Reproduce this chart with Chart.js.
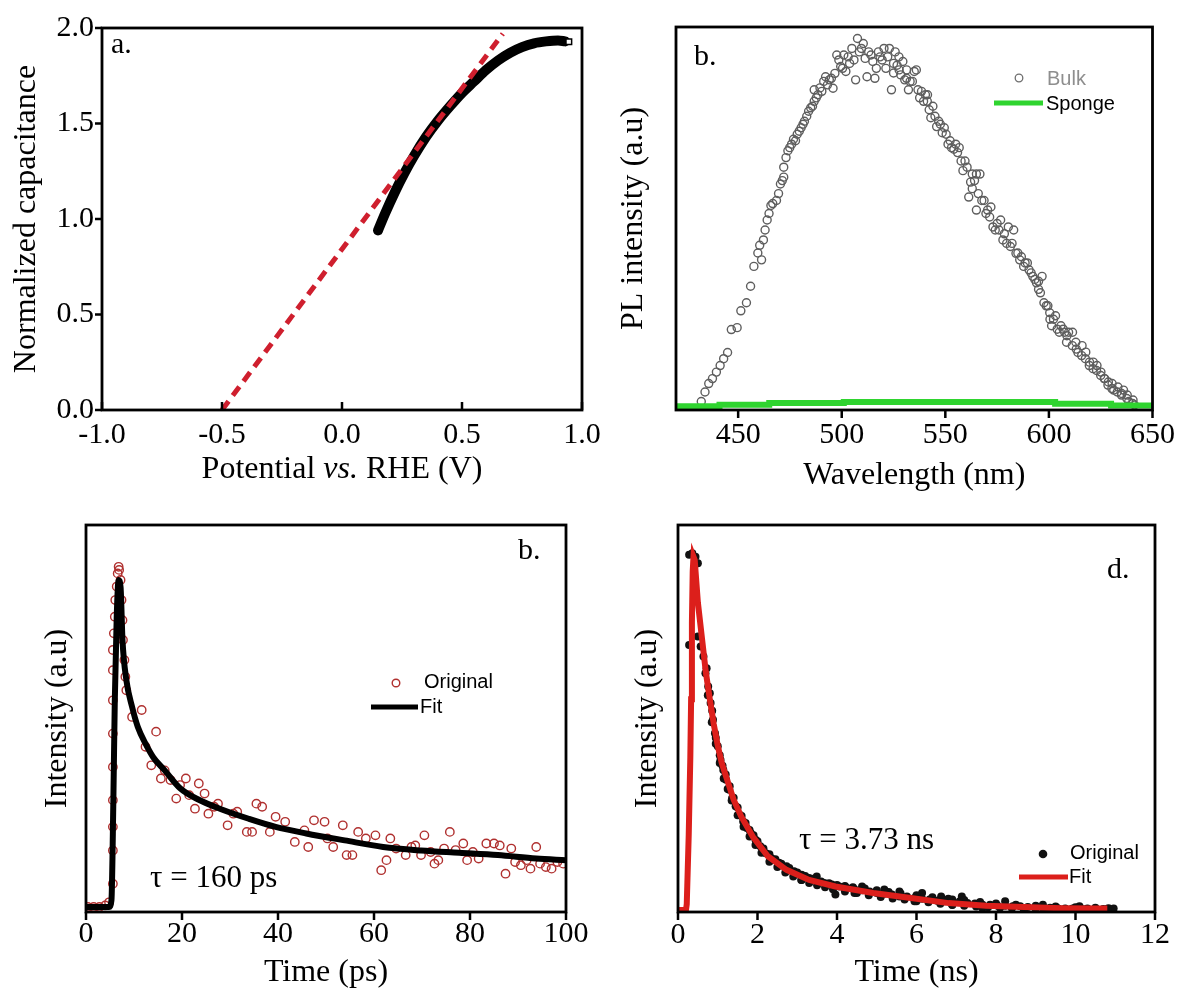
<!DOCTYPE html>
<html>
<head>
<meta charset="utf-8">
<script src="https://cdn.jsdelivr.net/npm/chart.js@4.4.1/dist/chart.umd.min.js"></script>
<style>
  html, body { margin: 0; padding: 0; background: #ffffff; overflow: hidden; }
  #wrap { position: relative; width: 1182px; height: 994px; background: #ffffff; }
  #wrap canvas { position: absolute; left: 0; top: 0; }
</style>
</head>
<body>
<div id="wrap">
  <canvas id="chartA" width="1182" height="994"></canvas>
  <canvas id="chartB" width="1182" height="994"></canvas>
  <canvas id="chartC" width="1182" height="994"></canvas>
  <canvas id="chartD" width="1182" height="994"></canvas>
</div>
<script>
// ---------------- DATA ----------------
// Panel a: normalized capacitance vs potential
const aPotential   = [0.15,0.18,0.22,0.26,0.30,0.35,0.40,0.45,0.50,0.55,0.60,0.65,0.70,0.75,0.80,0.85,0.90,0.93];
const aCapacitance = [0.94,1.03,1.14,1.24,1.33,1.43,1.515,1.59,1.66,1.72,1.78,1.83,1.87,1.90,1.92,1.93,1.935,1.93];
const aEndPotential = [0.945];
const aEndCapacitance = [1.928];
const aFitPotential = [-0.5, 0.67];
const aFitCapacitance = [0, 1.97];
const aXTicks = [-1.0, -0.5, 0.0, 0.5, 1.0];
const aYTicks = [0.0, 0.5, 1.0, 1.5, 2.0];

// Panel b: PL spectra
const bBulkWl = [432.2,434,435.8,437.6,439.5,441.3,443,444.9,446.7,449.5,
  451.3,454,456,457.6,459.5,460.4,463,464,466.7,468.5,
  470.4,472,472,474,474.9,476.7,478.5,480.4,482,484,
  485,486.7,486.7,488.5,490.4,491.3,492.2,494,495.8,496.7,
  497.6,499.5,501,502,503.8,504.9,506.7,507.6,508.5,510.4,
  511.3,512.2,513,515,516,516.7,518.5,520.4,521.3,523,
  524,525,525.8,526.7,527.6,528.5,529.5,530.4,531.3,532.2,
  533,535,536,537.6,538.5,540.4,541.3,542.2,543,544,
  545.8,547.6,548.5,550.4,551.3,553,555,556.7,557.6,558.5,
  559.5,562.2,563,565,566.7,563,561.3,565,567.6,570.4,
  572,573,575,576.7,578.5,580.4,582.2,583,585,586.7,
  588.5,590.4,592.2,594,595,596.7,597.6,599.5,600.4,602.2,
  601.3,604,605.8,607.6,609.5,608.5,611.3,613,614,615.8,
  617.6,619.5,621.3,623,625,626.7,628.5,630.4,631.3,633,
  635,636,637.6,638.5,640.4,641.3,
  461.3,462.2,464.9,465.8,469.5,471.3,473.1,475.8,477.7,479.5,
  481.3,483.1,485.9,487.7,489.5,493.1,495.0,498.6,500.4,503.1,
  505.9,509.5,514.1,517.7,519.5,522.2,525.0,527.7,531.3,534.1,
  536.8,539.5,541.4,545.0,546.8,549.5,552.3,554.1,555.9,560.5,
  564.1,565.9,568.7,569.6,571.4,574.1,575.9,577.8,579.6,581.4,
  584.1,585.9,587.8,589.6,591.4,593.2,595.0,595.9,598.7,600.5,
  603.2,605.0,606.9,608.7,611.4,613.2,616.0,617.8,619.6,621.4,
  623.2,625.1,626.9,628.7,630.5,633.3,635.1,637.8,640.6];
const bBulkInt = [2.2,4.7,6.9,8.2,9.9,11.6,13.4,15,21,21.5,
  25.9,28,32.3,37.5,41,43,47,49.6,53.9,54.7,
  59,60.8,63.4,67.7,68.5,70.7,72,73.7,75.4,78,
  78.9,80.6,83.6,82.3,83.2,85.8,87,86.2,84,87.9,
  92.7,89.7,92.7,88.4,90.5,94.4,86.2,97,93.5,95.7,
  91.8,87,93.5,91,86.6,89.2,92.2,94.4,89.2,94.4,
  83.6,88,93.5,90,92.2,87.5,91,86.2,88.8,83.6,
  85.8,88.4,88.8,81.5,83.2,82.3,80.6,78.4,76.3,79.3,
  74,74.6,72.4,72,69.4,68.5,69.4,68.5,65,62.5,
  65,59.5,61.6,61.6,61.6,57.8,55.6,52.2,54.7,52.2,
  53,47.8,48.7,49.6,46,47.8,43.5,47,41,40,
  38.4,36.6,34.9,33.2,31.5,34.9,28,27.2,25.4,23.7,
  22,21.1,22,20.3,20.3,17.7,16.8,17.7,15,14.2,
  13.4,11.6,10.8,10.3,9,8.2,6.5,5.6,5.2,4.7,
  3.9,5.2,3,2.2,1.7,1.3,
  39.2,44.4,51.3,53.4,56.5,59.9,65.9,69.4,70.3,72.8,
  74.6,76.7,79.3,81.5,84.1,84.9,86.6,91.4,89.2,92.2,
  91.4,94.4,92.7,93.5,91.4,92.2,90.5,88.8,86.6,85.8,
  83.6,80.6,82.3,76.7,75.4,73.7,70.3,68.1,67.2,63.4,
  59.9,56.5,54.7,51.3,50.4,47.0,47.0,44.4,43.5,42.7,
  40.9,39.2,37.5,38.4,35.8,34.1,33.6,30.6,27.2,23.7,
  24.6,20.3,21.1,19.4,20.3,15.9,16.8,15.1,12.5,12.5,
  11.6,9.9,8.2,7.3,6.9,6.0,4.3,3.9,2.6];
const bSpongeWl  = [420, 441, 465, 501, 603, 630, 650];
const bSpongeInt = [1.0, 1.4, 1.8, 2.1, 1.6, 1.2, 1.2];
const bXTicks = [450, 500, 550, 600, 650];

// Panel c: decay in ps
const cOrigTime = [0.4,1.6,2.8,4.0,4.8,5.6,5.6,5.6,5.6,5.6,5.6,5.6,5.6,5.6,5.8,6.0,6.1,6.4,6.6,6.8,6.9,7.2,7.4,7.6,7.7,8.0,8.2,8.4,
  9.6,11.6,12.4,13.6,14.6,15.6,16.4,17.6,18.8,19.6,20.8,21.5,22.7,23.5,24.7,25.5,26.7,27.5,29.5,30.7,
  31.5,33.5,34.6,35.5,36.7,38.3,39.5,41.5,43.5,45.5,46.3,47.5,49.7,50.3,51.5,53.5,54.3,55.5,56.7,58.3,
  60.3,61.5,62.6,63.4,64.6,66.6,67.8,68.6,69.8,70.5,71.8,72.6,73.4,74.6,75.8,77.0,78.6,79.4,80.6,81.8,
  83.4,85.0,86.2,87.4,88.6,89.4,90.6,91.8,92.6,93.8,94.6,95.8,97.0,98.2,99.4];
const cOrigInt = [1.3,1.3,1.3,1.7,2.5,7.3,15.9,22.0,28.9,37.5,46.1,54.7,62.5,67.7,72.0,76.3,80.6,84.1,87.5,89.2,88.4,85.8,80.6,75.4,70.3,65.1,60.8,57.3,
  50.4,52.2,42.7,37.9,46.6,34.5,36.6,34.1,29.3,32.8,34.5,30.2,26.7,33.2,30.6,25.4,27.2,28.0,22.4,25.4,
  25.9,20.7,20.7,28.0,27.2,20.7,24.6,23.3,18.1,21.1,16.8,23.7,23.3,19.0,16.8,22.4,14.7,14.7,20.7,19.0,
  19.8,10.8,13.4,19.0,16.4,14.7,16.8,17.2,14.7,19.8,15.5,12.5,13.4,16.4,20.7,16.0,17.7,13.4,15.5,13.8,
  17.7,17.7,17.2,9.9,16.4,12.9,12.1,13.4,11.2,16.8,12.5,11.6,11.2,12.9,12.5];
const cFitTime = [0,4.8,5.3,5.7,6.0,6.4,6.8,7.2,7.6,8.4,9.6,10.8,12.4,14,16.4,19.6,23.5,28.3,33.9,39.5,45.9,53.9,61.9,69.8,77.8,85.8,93.8,100];
const cFitInt  = [1.3,1.3,3,28.9,54.7,76.3,85.8,84,70.3,60,53,47.8,43.5,40,36.6,32,29,26.5,24.1,22,20.3,18.5,16.8,15.9,15.3,14.7,13.8,13.4];
const cXTicks = [0, 20, 40, 60, 80, 100];

// Panel d: decay in ns
const dOrigTime = [0.28,0.36,0.44,0.50,0.28,0.50,0.57,0.64,0.69,0.76,0.82,0.88,0.93,1.0,1.07,1.14,1.21,1.29,1.36,1.45,
  1.55,1.64,1.73,1.83,1.95,2.07,2.21,2.35,2.54,2.73,2.92,3.11,3.30,3.49,3.68,3.87,3.96,4.06,4.25,4.44,
  4.63,4.82,5.0,5.19,5.38,5.57,5.76,5.95,6.14,6.33,6.52,6.71,6.90,7.09,7.28,7.47,7.66,7.85,8.04,8.23,
  8.42,8.61,8.80,8.99,9.18,9.36,9.55,9.74,9.93,10.1,10.3,10.5,10.7,10.83,10.96,
  3.11,3.49,4.44,4.63,5.19,5.57,5.95,6.14,6.62,6.90,7.14,7.66,8.23,8.70,9.18,10.1,
  0.72,0.8,0.86,0.95,1.05,1.12,1.2,1.3,1.4,1.5,1.6,1.7,1.8,1.9,2.0,2.15,2.3,2.45,2.6,2.8,
  3.0,3.2,3.4,3.6,3.8,4.0,4.2,4.4,4.7,5.0,5.3,5.6,6.0,6.4,6.8,7.2,7.6,8.0,8.5,9.0,9.5,10.0,10.5,
  0.75,0.85,0.95,1.05,1.15,1.25,1.35,1.5,1.65,1.8,1.95,2.1,2.3,2.5,2.7,2.9,3.1,3.3,3.5,3.7,
  3.9,4.2,4.5,4.8,5.1,5.4,5.7,6.0,6.3,6.6,6.9,7.2,7.5,7.8,8.1,8.4,8.7,9.0,9.3,9.6,9.9,10.2,10.5,10.8];
const dOrigInt = [92.3,92.7,91.8,90.1,69,71.2,68.6,66,61.7,58.3,54,49.7,46.2,42.8,39.3,36.7,34.2,31.6,29.4,27.3,
  25.1,23.4,21.7,20.4,18.7,17,15.2,13.9,12.7,11.8,10.5,9.6,8.8,7.9,7.5,7.1,4.5,6.6,6.2,5.9,
  5.6,5.3,4.9,4.7,4.5,4.0,4.0,3.6,3.4,3.2,2.9,2.8,3.2,2.8,2.3,2.2,1.9,1.9,1.6,1.6,
  1.5,1.5,1.3,1.3,1.1,1.1,1.0,0.9,0.9,0.9,0.9,0.8,0.8,1.0,0.9,
  8.3,9.2,4.9,6.6,5.8,5.3,2.8,4.9,4.0,1.9,4.0,1.0,2.8,0.8,1.9,1.5,
  63,56.5,52,45,40.5,37.8,35.5,32.5,29.5,27,24.8,23,21.2,19.8,18.3,16.4,14.9,13.6,12.5,11.4,
  10.2,9.3,8.6,7.9,7.4,7.0,6.7,6.4,6.1,5.6,5.2,4.8,4.3,3.8,3.4,3.1,2.6,2.2,1.9,1.6,1.4,1.2,1.1,
  56,49,43.5,38.5,34.5,31.8,28.8,25,22,19.5,17.3,15.3,13,11.6,10.2,9.2,8.3,7.5,6.9,6.4,
  5.9,5.3,4.9,4.3,3.9,3.5,3.2,2.8,2.5,2.1,1.8,1.6,1.4,1.2,1.1,1.0,0.9,0.8,0.8,0.7,0.7,0.7,0.6,0.7];
const dFitTime = [0,0.2,0.22,0.27,0.31,0.33,0.35,0.37,0.39,0.42,0.5,0.6,0.7,0.8,0.9,1.0,1.1,1.21,1.40,1.59,1.88,2.26,2.73,3.30,3.96,4.91,5.86,6.81,7.75,8.70,9.65,10.6,10.8];
const dFitInt  = [0.5,0.5,2,20,40,55,75,88,91.8,91,80,71,62,55,48.5,43,38.5,35,29,24.7,19.5,14.4,10.9,8.3,6.6,4.9,3.6,2.3,1.6,1.3,1.0,0.9,0.9];
const dXTicks = [0, 2, 4, 6, 8, 10, 12];

// ---------------- HELPERS ----------------
const W = 1182, H = 994;
const SERIF = "'Liberation Serif','Times New Roman',serif";
const SANS = "'Liberation Sans',Arial,sans-serif";

function pts(xs, ys) {
  const n = Math.min(xs.length, ys.length), out = [];
  for (let i = 0; i < n; i++) out.push({x: xs[i], y: ys[i]});
  return out;
}

function decorPlugin(d) {
  return {
    id: 'decor',
    afterDraw(chart) {
      const ctx = chart.ctx, a = chart.chartArea;
      const xs = chart.scales.x, ys = chart.scales.y;
      ctx.save();
      ctx.strokeStyle = '#000';
      ctx.lineWidth = 2.5;
      ctx.beginPath();
      (d.xTicks || []).forEach(v => {
        const p = xs.getPixelForValue(v);
        ctx.moveTo(p, a.bottom);
        ctx.lineTo(p, a.bottom + d.xTickDir * 8);
      });
      (d.yTicks || []).forEach(v => {
        const p = ys.getPixelForValue(v);
        ctx.moveTo(a.left, p);
        ctx.lineTo(a.left - d.yTickDir * 7, p);
      });
      ctx.stroke();
      ctx.lineWidth = 2.8;
      ctx.strokeRect(a.left, a.top, a.right - a.left, a.bottom - a.top);
      (d.legend || []).forEach(it => {
        ctx.beginPath();
        if (it.kind === 'circle') {
          ctx.arc(it.x, it.y, it.r, 0, Math.PI * 2);
          ctx.lineWidth = it.lw; ctx.strokeStyle = it.color; ctx.stroke();
        } else if (it.kind === 'dot') {
          ctx.arc(it.x, it.y, it.r, 0, Math.PI * 2);
          ctx.fillStyle = it.color; ctx.fill();
        } else if (it.kind === 'line') {
          ctx.moveTo(it.x1, it.y); ctx.lineTo(it.x2, it.y);
          ctx.lineWidth = it.lw; ctx.strokeStyle = it.color; ctx.lineCap = 'butt'; ctx.stroke();
        }
      });
      (d.texts || []).forEach(t => {
        ctx.font = t.font;
        ctx.fillStyle = t.color || '#000';
        ctx.textAlign = 'left';
        ctx.textBaseline = t.base || 'alphabetic';
        ctx.fillText(t.text, t.x, t.y);
      });
      if (d.rich) {
        const r = d.rich;
        let total = 0;
        r.parts.forEach(p => { ctx.font = p.font; total += ctx.measureText(p.text).width; });
        let x = r.cx - total / 2;
        ctx.fillStyle = '#000';
        ctx.textAlign = 'left';
        ctx.textBaseline = 'middle';
        r.parts.forEach(p => { ctx.font = p.font; ctx.fillText(p.text, x, r.cy); x += ctx.measureText(p.text).width; });
      }
      ctx.restore();
    }
  };
}

function makeOptions(p) {
  const pad = { left: p.area.l - p.yW, top: p.area.t, right: W - p.area.r, bottom: H - p.area.b - p.xH };
  return {
    responsive: false, maintainAspectRatio: false, animation: false, devicePixelRatio: 1, events: [],
    layout: { autoPadding: false, padding: pad },
    plugins: { legend: { display: false }, tooltip: { enabled: false } },
    scales: {
      x: {
        type: 'linear', position: 'bottom', min: p.xMin, max: p.xMax,
        afterFit: s => { s.height = p.xH; },
        afterBuildTicks: s => { s.ticks = p.xTicks.map(v => ({ value: v })); },
        grid: { display: false, drawTicks: false }, border: { display: false },
        ticks: { padding: p.xLabelPad, color: '#000', font: { family: SERIF, size: 30 }, maxRotation: 0, minRotation: 0, autoSkip: false, callback: p.xFmt },
        title: { display: !!p.xTitle, text: p.xTitle || '', color: '#000', font: { family: SERIF, size: 32, lineHeight: 1 }, padding: { top: 0, bottom: p.xTitlePad || 0 } }
      },
      y: {
        type: 'linear', position: 'left', min: p.yMin, max: p.yMax,
        afterFit: s => { s.width = p.yW; },
        afterBuildTicks: s => { s.ticks = (p.yTicks || []).map(v => ({ value: v })); },
        grid: { display: false, drawTicks: false }, border: { display: false },
        ticks: { display: !!p.yLabels, padding: 8, color: '#000', font: { family: SERIF, size: 30 }, callback: p.yFmt },
        title: { display: true, text: p.yTitle, color: '#000', font: { family: SERIF, size: 32, lineHeight: 1 }, padding: { top: p.yTitlePad, bottom: 0 } }
      }
    }
  };
}

const fmt1 = v => Number(v).toFixed(1);
const fmt0 = v => String(v);

// ---------------- PANEL A ----------------
new Chart(document.getElementById('chartA'), {
  type: 'scatter',
  data: { datasets: [
    { data: pts(aFitPotential, aFitCapacitance), showLine: true, borderColor: '#cf1f2e', borderWidth: 5, borderDash: [11, 7], pointRadius: 0 },
    { data: pts(aEndPotential, aEndCapacitance), pointStyle: 'rect', pointRadius: 4, backgroundColor: '#ffffff', borderColor: '#000', borderWidth: 1.5 },
    { data: pts(aPotential, aCapacitance), showLine: true, borderColor: '#000', borderWidth: 10, pointRadius: 0, cubicInterpolationMode: 'monotone', borderCapStyle: 'round' }
  ]},
  options: makeOptions({
    area: { l: 102, t: 28, r: 582, b: 410 }, yW: 102, xH: 90,
    xMin: -1, xMax: 1, xTicks: aXTicks, xFmt: fmt1, xLabelPad: 7, xTitle: '',
    yMin: 0, yMax: 2, yTicks: aYTicks, yFmt: fmt1, yLabels: true,
    yTitle: 'Normalized capacitance', yTitlePad: 11
  }),
  plugins: [decorPlugin({
    xTicks: aXTicks, xTickDir: -1, yTicks: aYTicks, yTickDir: 1,
    texts: [{ text: 'a.', x: 111, y: 53, font: '30px ' + SERIF }],
    rich: { cx: 342, cy: 470, parts: [
      { text: 'Potential ', font: '32px ' + SERIF },
      { text: 'vs.', font: 'italic 32px ' + SERIF },
      { text: ' RHE (V)', font: '32px ' + SERIF }
    ]}
  })]
});

// ---------------- PANEL B ----------------
new Chart(document.getElementById('chartB'), {
  type: 'scatter',
  data: { datasets: [
    { data: pts(bSpongeWl, bSpongeInt), showLine: true, stepped: 'before', borderColor: '#2fd42f', borderWidth: 6, pointRadius: 0 },
    { data: pts(bBulkWl, bBulkInt), pointRadius: 4, pointBorderWidth: 1.4, borderColor: '#5e5e5e', backgroundColor: 'rgba(0,0,0,0)', pointBackgroundColor: 'rgba(0,0,0,0)' }
  ]},
  options: makeOptions({
    area: { l: 676, t: 27, r: 1155, b: 410 }, yW: 85, xH: 90,
    xMin: 420, xMax: 650, xTicks: bXTicks, xFmt: fmt0, xLabelPad: 7, xTitle: 'Wavelength (nm)', xTitlePad: 8,
    yMin: 0, yMax: 100, yTicks: [], yLabels: false,
    yTitle: 'PL intensity (a.u)', yTitlePad: 27
  }),
  plugins: [decorPlugin({
    xTicks: bXTicks, xTickDir: 1, yTicks: [], yTickDir: 1,
    texts: [
      { text: 'b.', x: 694, y: 65, font: '30px ' + SERIF },
      { text: 'Bulk', x: 1047, y: 79, font: '20px ' + SANS, color: '#8e8e8e', base: 'middle' },
      { text: 'Sponge', x: 1046, y: 104, font: '20px ' + SANS, color: '#000', base: 'middle' }
    ],
    legend: [
      { kind: 'circle', x: 1019, y: 78, r: 3.8, lw: 1.3, color: '#6e6e6e' },
      { kind: 'line', x1: 994, x2: 1043, y: 103, lw: 5, color: '#2fd42f' }
    ]
  })]
});

// ---------------- PANEL C ----------------
new Chart(document.getElementById('chartC'), {
  type: 'scatter',
  data: { datasets: [
    { data: pts(cFitTime, cFitInt), showLine: true, borderColor: '#000', borderWidth: 6, pointRadius: 0, cubicInterpolationMode: 'monotone' },
    { data: pts(cOrigTime, cOrigInt), pointRadius: 4.2, pointBorderWidth: 1.4, borderColor: '#b0302f', backgroundColor: 'rgba(0,0,0,0)', pointBackgroundColor: 'rgba(0,0,0,0)' }
  ]},
  options: makeOptions({
    area: { l: 86, t: 525, r: 566, b: 912 }, yW: 86, xH: 82,
    xMin: 0, xMax: 100, xTicks: cXTicks, xFmt: fmt0, xLabelPad: 4, xTitle: 'Time (ps)', xTitlePad: 5,
    yMin: 0, yMax: 100, yTicks: [], yLabels: false,
    yTitle: 'Intensity (a.u)', yTitlePad: 42
  }),
  plugins: [decorPlugin({
    xTicks: cXTicks, xTickDir: 1, yTicks: [], yTickDir: 1,
    texts: [
      { text: 'b.', x: 518, y: 559, font: '30px ' + SERIF },
      { text: 'τ = 160 ps', x: 150, y: 887, font: '31px ' + SERIF },
      { text: 'Original', x: 424, y: 682, font: '20px ' + SANS, base: 'middle' },
      { text: 'Fit', x: 420, y: 707, font: '20px ' + SANS, base: 'middle' }
    ],
    legend: [
      { kind: 'circle', x: 396, y: 683, r: 3.8, lw: 1.4, color: '#b0302f' },
      { kind: 'line', x1: 371, x2: 418, y: 707, lw: 5, color: '#000' }
    ]
  })]
});

// ---------------- PANEL D ----------------
new Chart(document.getElementById('chartD'), {
  type: 'scatter',
  data: { datasets: [
    { data: pts(dFitTime, dFitInt), showLine: true, borderColor: '#dc1f1b', borderWidth: 6, pointRadius: 0 },
    { data: pts(dOrigTime, dOrigInt), pointRadius: 4, pointBorderWidth: 0, backgroundColor: '#111', pointBackgroundColor: '#111', borderColor: '#111' }
  ]},
  options: makeOptions({
    area: { l: 678, t: 525, r: 1155, b: 912 }, yW: 87, xH: 82,
    xMin: 0, xMax: 12, xTicks: dXTicks, xFmt: fmt0, xLabelPad: 5, xTitle: 'Time (ns)', xTitlePad: 5,
    yMin: 0, yMax: 100, yTicks: [], yLabels: false,
    yTitle: 'Intensity (a.u)', yTitlePad: 41
  }),
  plugins: [decorPlugin({
    xTicks: dXTicks, xTickDir: 1, yTicks: [], yTickDir: 1,
    texts: [
      { text: 'd.', x: 1107, y: 578, font: '30px ' + SERIF },
      { text: 'τ = 3.73 ns', x: 799, y: 849, font: '31px ' + SERIF },
      { text: 'Original', x: 1070, y: 853, font: '20px ' + SANS, base: 'middle' },
      { text: 'Fit', x: 1069, y: 877, font: '20px ' + SANS, base: 'middle' }
    ],
    legend: [
      { kind: 'dot', x: 1043, y: 854, r: 4.3, color: '#111' },
      { kind: 'line', x1: 1019, x2: 1068, y: 877, lw: 5, color: '#dc1f1b' }
    ]
  })]
});
</script>
</body>
</html>
